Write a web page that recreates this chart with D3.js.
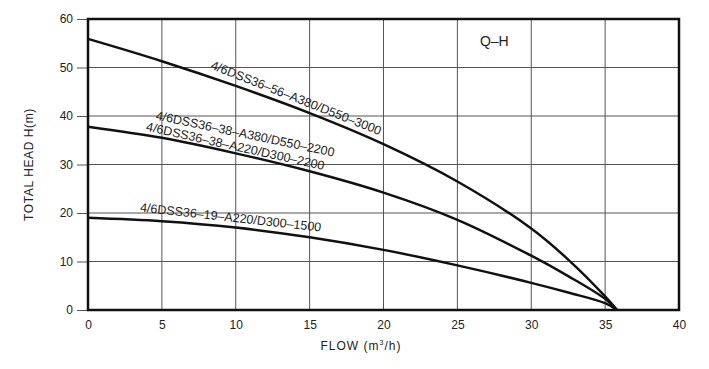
<!DOCTYPE html>
<html><head><meta charset="utf-8">
<script src="https://cdn.jsdelivr.net/npm/d3@7"></script>
<style>body{margin:0;background:#fff}text{font-family:"Liberation Sans",Arial,sans-serif;fill:#222}</style>
</head><body><svg id="c" width="709" height="369"></svg>
<script>
const xTicks=[0,5,10,15,20,25,30,35,40];
const yTicks=[0,10,20,30,40,50,60];
const flow=[0,5,10,15,20,25,30,32.5,35,35.8];
const h56=[55.9,51.3,46.2,40.6,34.2,26.5,16.8,10.4,2.8,0];
const h38=[37.8,35.5,32.3,28.6,24.2,18.6,11.2,7.0,2.3,0];
const h19=[19.0,18.3,17.0,15.0,12.4,9.2,5.6,3.6,1.4,0];
const series=[h56,h38,h19];
const labels=[
 {text:"4/6DSS36\u201356\u2013A380/D550\u20133000",q:8.25,h:49.8,a:21.5},
 {text:"4/6DSS36\u201338\u2013A380/D550\u20132200",q:4.55,h:39.3,a:11.8},
 {text:"4/6DSS36\u201338\u2013A220/D300\u20132200",q:3.9,h:37.0,a:12.5},
 {text:"4/6DSS36\u201319\u2013A220/D300\u20131500",q:3.5,h:20.3,a:6.3}
];
const svg=d3.select("#c");
const x=d3.scaleLinear().domain([0,40]).range([88,679]);
const y=d3.scaleLinear().domain([0,60]).range([310,19]);
// grid
svg.append("g").selectAll("line").data(xTicks.slice(1,-1)).join("line")
 .attr("x1",d=>x(d)).attr("x2",d=>x(d)).attr("y1",y(60)).attr("y2",y(0)).attr("stroke","#555").attr("stroke-width",1);
svg.append("g").selectAll("line").data(yTicks.slice(1,-1)).join("line")
 .attr("x1",x(0)).attr("x2",x(40)).attr("y1",d=>y(d)).attr("y2",d=>y(d)).attr("stroke","#555").attr("stroke-width",1);
// axes
const ya=svg.append("g").attr("transform",`translate(${x(0)},0)`).call(d3.axisLeft(y).tickValues(yTicks).tickSize(11).tickPadding(4));
ya.select(".domain").remove();
ya.selectAll("line").attr("stroke","#555");
ya.selectAll("text").attr("font-size",12).attr("font-family","Liberation Sans, Arial").attr("fill","#222");
const xa=svg.append("g").attr("transform",`translate(0,${y(0)})`).call(d3.axisBottom(x).tickValues(xTicks).tickSize(0).tickPadding(10));
xa.select(".domain").remove();
xa.selectAll("text").attr("font-size",12).attr("font-family","Liberation Sans, Arial").attr("fill","#222");
// border
svg.append("rect").attr("x",x(0)).attr("y",y(60)).attr("width",x(40)-x(0)).attr("height",y(0)-y(60))
 .attr("fill","none").attr("stroke","#111").attr("stroke-width",2.5);
// curves
const line=d3.line().x((d,i)=>x(flow[i])).y(d=>y(d)).curve(d3.curveCatmullRom.alpha(0.5));
svg.append("g").selectAll("path").data(series).join("path").attr("d",line)
 .attr("fill","none").attr("stroke","#111").attr("stroke-width",2.5);
// labels
svg.append("g").selectAll("text").data(labels).join("text")
 .attr("transform",d=>`translate(${x(d.q)},${y(d.h)}) rotate(${d.a})`)
 .attr("font-size",12.5).text(d=>d.text);
svg.append("text").attr("x",x(27.5)).attr("y",y(54.5)).attr("text-anchor","middle").attr("font-size",14).text("Q\u2013H");
svg.append("text").attr("x",361).attr("y",350).attr("text-anchor","middle").attr("font-size",12).attr("letter-spacing",1)
 .html('FLOW (m<tspan dy="-5" font-size="7">3</tspan><tspan dy="5">/h)</tspan>');
svg.append("text").attr("transform",`translate(33,${y(30)}) rotate(-90)`).attr("text-anchor","middle").attr("font-size",12).attr("letter-spacing",0.6)
 .text("TOTAL HEAD  H(m)");
</script></body></html>
